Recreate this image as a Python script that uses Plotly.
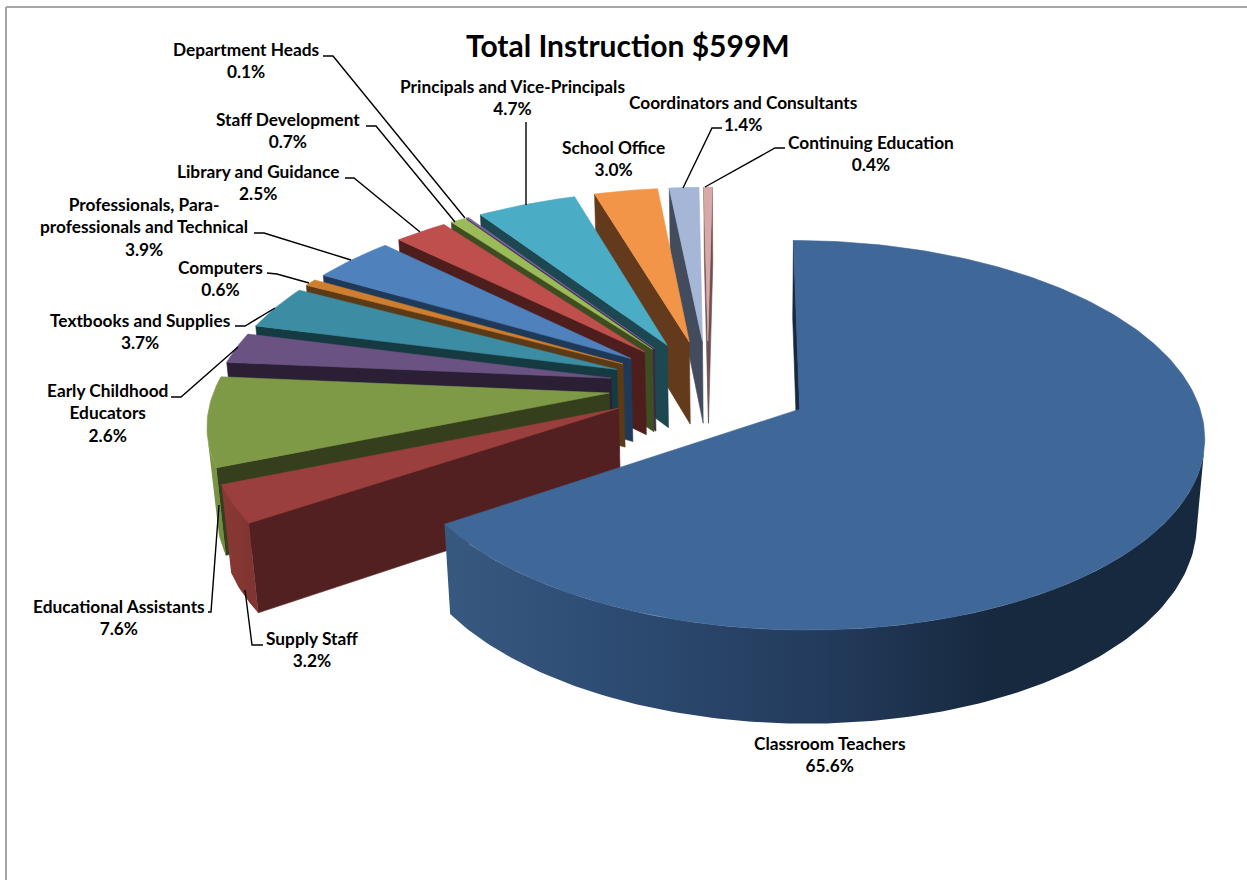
import math
import plotly.graph_objects as go

# Budget shares, in percent, clockwise from twelve o'clock
categories = ["Classroom Teachers", "Supply Staff", "Educational Assistants",
              "Early Childhood Educators", "Textbooks and Supplies", "Computers",
              "Professionals, Para-professionals and Technical", "Library and Guidance",
              "Staff Development", "Department Heads", "Principals and Vice-Principals",
              "School Office", "Coordinators and Consultants", "Continuing Education"]
shares = [65.6, 3.2, 7.6, 2.6, 3.7, 0.6, 3.9, 2.5, 0.7, 0.1, 4.7, 3.0, 1.4, 0.4]
title_text = "Total Instruction $599M"

# Display text for each slice label (line breaks differ from the category names)
label_names = ["Classroom Teachers", "Supply Staff", "Educational Assistants",
               "Early Childhood<br>Educators", "Textbooks and Supplies", "Computers",
               "Professionals, Para-<br>professionals and Technical", "Library and Guidance",
               "Staff Development", "Department Heads", "Principals and Vice-Principals",
               "School Office", "Coordinators and Consultants", "Continuing Education"]

# Slice colours: top face, outer wall, cut face
top_colors = ["#3F6797", "#9A3F3D", "#7F9A47", "#6A5283", "#3C8DA3", "#CF7E2F", "#4F81BD",
              "#BE4F4C", "#9BBB59", "#8064A2", "#4BACC6", "#F39548", "#A5B6D6", "#D9A9A8"]
cut_colors = ["#17293F", "#522020", "#363F1D", "#2A1F34", "#153A42", "#5C3A16", "#1F3A58",
              "#4E1E1D", "#3F4D22", "#3A2A4A", "#1D4751", "#643A1C", "#424C5C", "#6E5050"]
wall_scales = {0: [[0, "#38597F"], [0.2, "#2E4D74"], [0.5, "#233B5C"], [0.72, "#17293F"], [1, "#17293F"]],
               1: [[0, "#8A3835"], [1, "#7E3431"]],
               2: [[0, "#7F9A47"], [1, "#6E8A3E"]]}

# Label placement in page pixels (centre of each text block)
label_x = [830, 312, 119, 107, 140, 220, 144, 258, 288, 246, 512, 613, 743, 871]
label_y = [754, 649, 617, 413, 331, 278, 227, 182, 130, 60, 97, 158, 113, 153]

# Leader lines in page pixels, same order as the categories
leaders = [None,
           [(263, 645), (252, 645), (245, 590)],
           [(208, 612), (211, 612), (219, 505)],
           [(171, 397), (181, 397), (238, 347)],
           [(235, 326), (245, 326), (275, 308)],
           [(267, 273), (277, 274), (309, 283)],
           [(254, 233), (264, 233), (351, 260)],
           [(345, 178), (354, 178), (420, 232)],
           [(366, 126), (376, 126), (455, 222)],
           [(323, 56), (333, 56), (465, 218)],
           [(526, 122), (526, 205)],
           None,
           [(722, 128), (712, 128), (683, 188)],
           [(785, 148), (775, 148), (705, 187)]]

# Camera and pie geometry, in world units
FOCAL = 2640.0
DIST = 6.4
SIN_A = 0.47
COS_A = math.sqrt(1 - SIN_A ** 2)
ORIGIN_X = -0.095
SCREEN_X = 747.0
SCREEN_Y = 386.0
RADIUS = 0.955
EXPLODE = 0.24
CLASSROOM_EXPLODE = 0.25
THICK = 0.235
STEP = math.radians(1.0)

CAM = (-ORIGIN_X, -DIST * COS_A, DIST * SIN_A)


def project(px, py, pz):
    depth = DIST + py * COS_A - pz * SIN_A
    return (SCREEN_X + FOCAL * (px + ORIGIN_X) / depth,
            SCREEN_Y - FOCAL * (py * SIN_A + pz * COS_A) / depth)


def polygon(points, color=None, gradient=None, name=""):
    pts = list(points)
    xs = [p[0] for p in pts] + [pts[0][0]]
    ys = [p[1] for p in pts] + [pts[0][1]]
    kw = {}
    if gradient:
        kw["fillgradient"] = dict(type="horizontal", colorscale=gradient)
        kw["line"] = dict(width=0)
    else:
        kw["fillcolor"] = color
        kw["line"] = dict(width=0.6, color=color)
    return go.Scatter(x=xs, y=ys, mode="lines", fill="toself", hoverinfo="skip",
                      showlegend=False, name=name, **kw)


fig = go.Figure()

total = sum(shares)
edges = [0.0]
for v in shares:
    edges.append(edges[-1] + v / total * 2 * math.pi)

# Far slices first so nearer ones paint over them; Classroom Teachers comes last
for i in range(len(shares) - 1, -1, -1):
    t0, t1 = edges[i], edges[i + 1]
    mid = (t0 + t1) / 2
    pull = CLASSROOM_EXPLODE if i == 0 else EXPLODE
    ax, ay = pull * math.sin(mid), pull * math.cos(mid)
    n = max(2, int((t1 - t0) / STEP) + 1)
    angles = [t0 + (t1 - t0) * k / n for k in range(n + 1)]
    rim = [(ax + RADIUS * math.sin(t), ay + RADIUS * math.cos(t)) for t in angles]

    # cut faces, drawn only when turned towards the camera
    for t, sign, end in ((t0, -1, rim[0]), (t1, 1, rim[-1])):
        nx, ny = sign * math.cos(t), -sign * math.sin(t)
        if nx * (CAM[0] - ax) + ny * (CAM[1] - ay) > 0:
            fig.add_trace(polygon([project(ax, ay, 0), project(end[0], end[1], 0),
                                   project(end[0], end[1], -THICK), project(ax, ay, -THICK)],
                                  color=cut_colors[i], name=categories[i]))

    # outer wall: the run of segments that faces the camera
    vis = [k for k in range(n) if
           math.sin((angles[k] + angles[k + 1]) / 2) * (CAM[0] - rim[k][0]) +
           math.cos((angles[k] + angles[k + 1]) / 2) * (CAM[1] - rim[k][1]) > 0]
    if vis:
        idx = list(range(vis[0], vis[-1] + 2))
        upper = [project(rim[k][0], rim[k][1], 0) for k in idx]
        lower = [project(rim[k][0], rim[k][1], -THICK) for k in reversed(idx)]
        fig.add_trace(polygon(upper + lower, color=cut_colors[i],
                              gradient=wall_scales.get(i, [[0, top_colors[i]], [1, cut_colors[i]]]),
                              name=categories[i]))

    # top face
    fig.add_trace(polygon([project(ax, ay, 0)] + [project(p[0], p[1], 0) for p in rim],
                          color=top_colors[i], name=categories[i]))

# Leader lines
for path in leaders:
    if path:
        fig.add_trace(go.Scatter(x=[p[0] for p in path], y=[p[1] for p in path], mode="lines",
                                 line=dict(color="black", width=1.4), hoverinfo="skip",
                                 showlegend=False))

# Slice labels
for i, name in enumerate(label_names):
    fig.add_annotation(x=label_x[i], y=label_y[i], xref="x", yref="y", showarrow=False,
                       text=f"<b>{name}<br>{shares[i]:.1f}%</b>", align="center",
                       font=dict(family="Lato", size=17.3, color="black"))

fig.add_annotation(x=628, y=45, xref="x", yref="y", showarrow=False,
                   text=f"<b>{title_text}</b>",
                   font=dict(family="Lato", size=30, color="black"))

# Chart frame along the top and left edges
fig.add_shape(type="line", x0=6, y0=7, x1=1247, y1=7, line=dict(color="#A6A6A6", width=2))
fig.add_shape(type="line", x0=6, y0=7, x1=6, y1=880, line=dict(color="#A6A6A6", width=2))

fig.update_xaxes(range=[0, 1247], visible=False)
fig.update_yaxes(range=[880, 0], visible=False)
fig.update_layout(width=1247, height=880, margin=dict(l=0, r=0, t=0, b=0),
                  paper_bgcolor="white", plot_bgcolor="white", showlegend=False)

fig.write_html("out.html", config={"displayModeBar": False})
